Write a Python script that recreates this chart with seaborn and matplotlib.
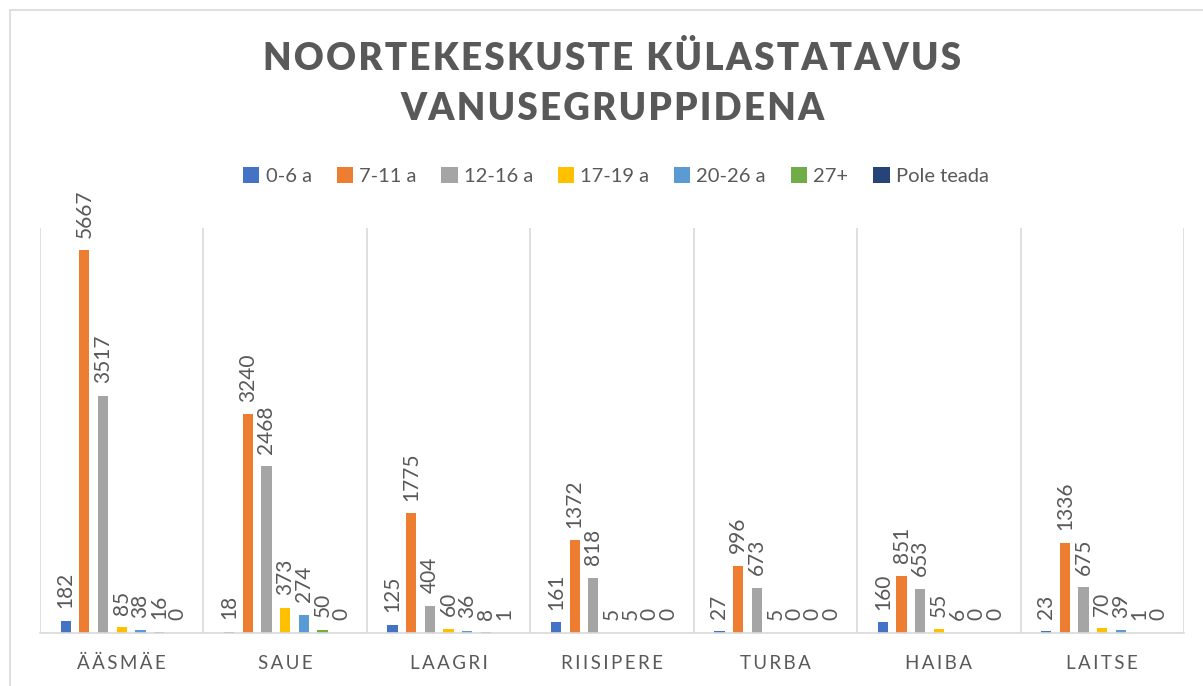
import matplotlib
matplotlib.use("Agg")
import matplotlib.pyplot as plt
import seaborn as sns
import pandas as pd
from matplotlib.patches import Rectangle, Patch

categories = ["ÄÄSMÄE", "SAUE", "LAAGRI", "RIISIPERE", "TURBA", "HAIBA", "LAITSE"]
groups = ["0-6 a", "7-11 a", "12-16 a", "17-19 a", "20-26 a", "27+", "Pole teada"]
v_0_6 = [182, 18, 125, 161, 27, 160, 23]
v_7_11 = [5667, 3240, 1775, 1372, 996, 851, 1336]
v_12_16 = [3517, 2468, 404, 818, 673, 653, 675]
v_17_19 = [85, 373, 60, 5, 5, 55, 70]
v_20_26 = [38, 274, 36, 5, 0, 6, 39]
v_27 = [16, 50, 8, 0, 0, 0, 1]
v_pole = [0, 0, 1, 0, 0, 0, 0]
colors = ["#4472C4", "#ED7D31", "#A5A5A5", "#FFC000", "#5B9BD5", "#70AD47", "#264478"]
title_lines = ["NOORTEKESKUSTE KÜLASTATAVUS", "VANUSEGRUPPIDENA"]

series = [v_0_6, v_7_11, v_12_16, v_17_19, v_20_26, v_27, v_pole]
rows = []
for g, vals in zip(groups, series):
    for c, v in zip(categories, vals):
        rows.append({"cat": c, "grp": g, "val": v})
df = pd.DataFrame(rows)

sns.set_style("white")
plt.rcParams["font.family"] = ["Lato", "DejaVu Sans"]
TXT = "#595959"

fig = plt.figure(figsize=(12.03, 6.86), dpi=100)
fig.patches.append(Rectangle((10 / 1203, -0.1), 1.2, 1.1 - 10 / 686, transform=fig.transFigure,
                             fill=False, edgecolor="#D9D9D9", linewidth=1.2))
ax = fig.add_axes([40 / 1203, 53 / 686, 1144 / 1203, 405 / 686])

sns.barplot(data=df, x="cat", y="val", hue="grp", order=categories, hue_order=groups,
            palette=colors, width=0.8, gap=0.45, ax=ax, legend=False, saturation=1,
            linewidth=0)

for cont in ax.containers:
    ax.bar_label(cont, labels=[f"{int(b.get_height())}" for b in cont], rotation=90,
                 padding=9, fontsize=15, color=TXT, clip_on=False)

ax.set_ylim(0, 6000)
ax.set_xlim(-0.5, len(categories) - 0.5)
for x in range(len(categories) + 1):
    ax.axvline(x - 0.5, color="#D9D9D9", lw=1.2, zorder=0)
ax.set_yticks([])
ax.set_xlabel("")
ax.set_ylabel("")
ax.set_xticks(range(len(categories)))
ax.set_xticklabels(["\u2009".join(c) for c in categories], fontsize=13.5, color=TXT)
ax.tick_params(axis="x", length=0, pad=16)
for s in ["top", "left", "right"]:
    ax.spines[s].set_visible(False)
ax.spines["bottom"].set_color("#D9D9D9")
ax.spines["bottom"].set_linewidth(1.2)

for line, y in zip(title_lines, [628 / 686, 577 / 686]):
    fig.text(0.509, y, "\u200a".join(line), ha="center", va="center",
             fontsize=26.5, fontweight="heavy", color=TXT)

handles = [Patch(facecolor=c, edgecolor="none") for c in colors]
fig.legend(handles, groups, loc="center", bbox_to_anchor=(0.512, 0.743), ncol=7, frameon=False,
           fontsize=14.5, labelcolor=TXT, handlelength=0.8, handleheight=0.8, handletextpad=0.3,
           columnspacing=1.25)

fig.savefig("out.png", dpi=100)
